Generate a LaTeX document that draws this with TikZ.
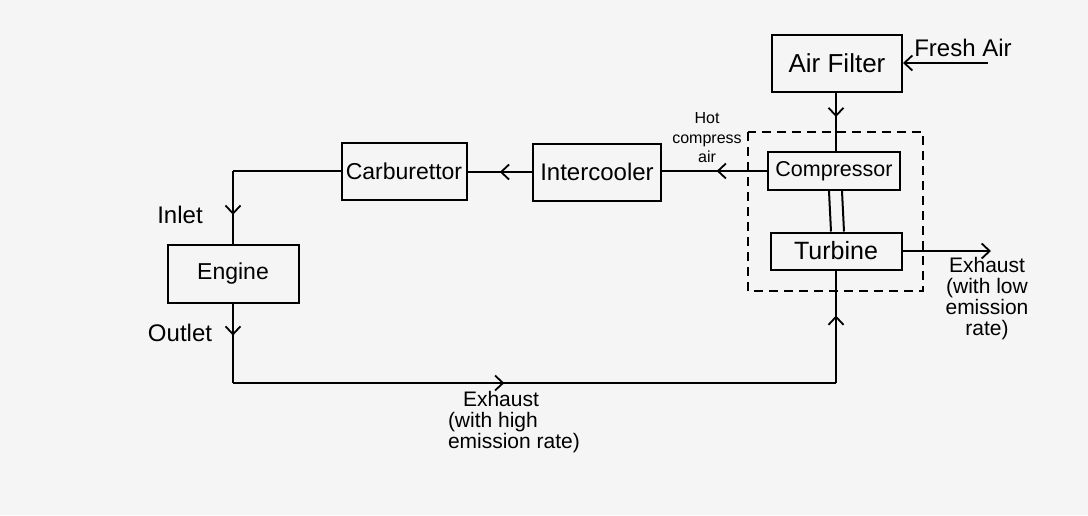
\documentclass[tikz,border=0pt]{standalone}
\usepackage{fontspec}
\setmainfont{Liberation Sans}
\usetikzlibrary{arrows.meta,positioning,calc,decorations.markings}

\begin{document}
\begin{tikzpicture}[x=1pt,y=-1pt,line width=2pt,
  blk/.style={draw,inner sep=2pt,font=\fontsize{21}{24}\selectfont},
  lab/.style={font=\fontsize{24}{26}\selectfont,inner sep=1pt},
  note/.style={font=\fontsize{21}{21}\selectfont,inner sep=1pt},
  midarrow/.style={postaction={decorate},decoration={markings,
    mark=at position #1 with {\arrow{Straight Barb[length=8pt,width=15pt,line width=1.8pt]}}}},
  midarrow/.default=0.5]
\fill[black!4] (0,0) rectangle (1088,515);
\useasboundingbox (0,0) rectangle (1088,515);

%% turbocharger unit
\node[blk,minimum width=130pt,minimum height=57pt,font=\fontsize{26}{28}\selectfont] (filt) at (837,63) {Air Filter};
\node[blk,minimum width=132pt,minimum height=38pt,font=\fontsize{21.5}{24}\selectfont] (comp) at (834,171) {Compressor};
\node[blk,minimum width=131pt,minimum height=37pt,font=\fontsize{25}{27}\selectfont] (turb) at (836,251) {Turbine};
\draw[dashed,dash pattern=on 9pt off 6pt] (748,132) rectangle (923,291);

%% intake line
\node[blk,minimum width=128pt,minimum height=57pt,font=\fontsize{24}{26}\selectfont] (cool) at (597,172) {Intercooler};
\node[blk,minimum width=125pt,minimum height=57pt,font=\fontsize{23}{25}\selectfont] (carb) at (404,171) {Carburettor};
\node[blk,minimum width=131pt,minimum height=58pt,font=\fontsize{23}{25}\selectfont] (eng) at (233,274) {Engine};

%% free ends
\coordinate (fresh) at (988,63);
\coordinate (out) at (991,251);
\coordinate (turn) at (eng.south |- 0,383);

%% arrows
\draw[-{Straight Barb[length=8pt,width=15pt,line width=1.8pt]}] (fresh) -- (filt.east);
\node[lab] (freshlab) at (963,48) {Fresh Air};
\draw[midarrow=0.42] (filt.south -| 836,0) -- (comp.north -| 836,0);
\draw[midarrow=0.48] (comp.west) -- (comp.west -| cool.east);
\node[lab,font=\fontsize{16}{19.5}\selectfont,align=center] (hotlab) at (707,138) {Hot\\compress\\air};
\draw[midarrow] (cool.west) -- (cool.west -| carb.east);
\draw (carb.west) -- (carb.west -| eng.north) coordinate (inl);
\draw[midarrow=0.6] (inl) -- (eng.north);
\node[lab] (inlab) at (180,215) {Inlet};
\draw[midarrow=0.4] (eng.south) -- (turn);
\node[lab] (outlab) at (180,333) {Outlet};
\draw[midarrow=0.45] (turn) -- (turn -| turb.south);
\draw[midarrow=0.6] (turn -| turb.south) -- (turb.south);
\node[note,align=left,anchor=north west] (hiex) at (446,389) {\hspace{15pt}Exhaust\\(with high\\emission rate)};
\draw ([xshift=-5pt]comp.south) -- ([xshift=-5pt]turb.north);
\draw ([xshift=8pt]comp.south) -- ([xshift=8pt]turb.north);
\draw[-{Straight Barb[length=8pt,width=15pt,line width=1.8pt]}] (turb.east) -- (out);
\node[note,align=center,anchor=north] (loex) at (987,255) {Exhaust\\(with low\\emission\\rate)};
\end{tikzpicture}
\end{document}
